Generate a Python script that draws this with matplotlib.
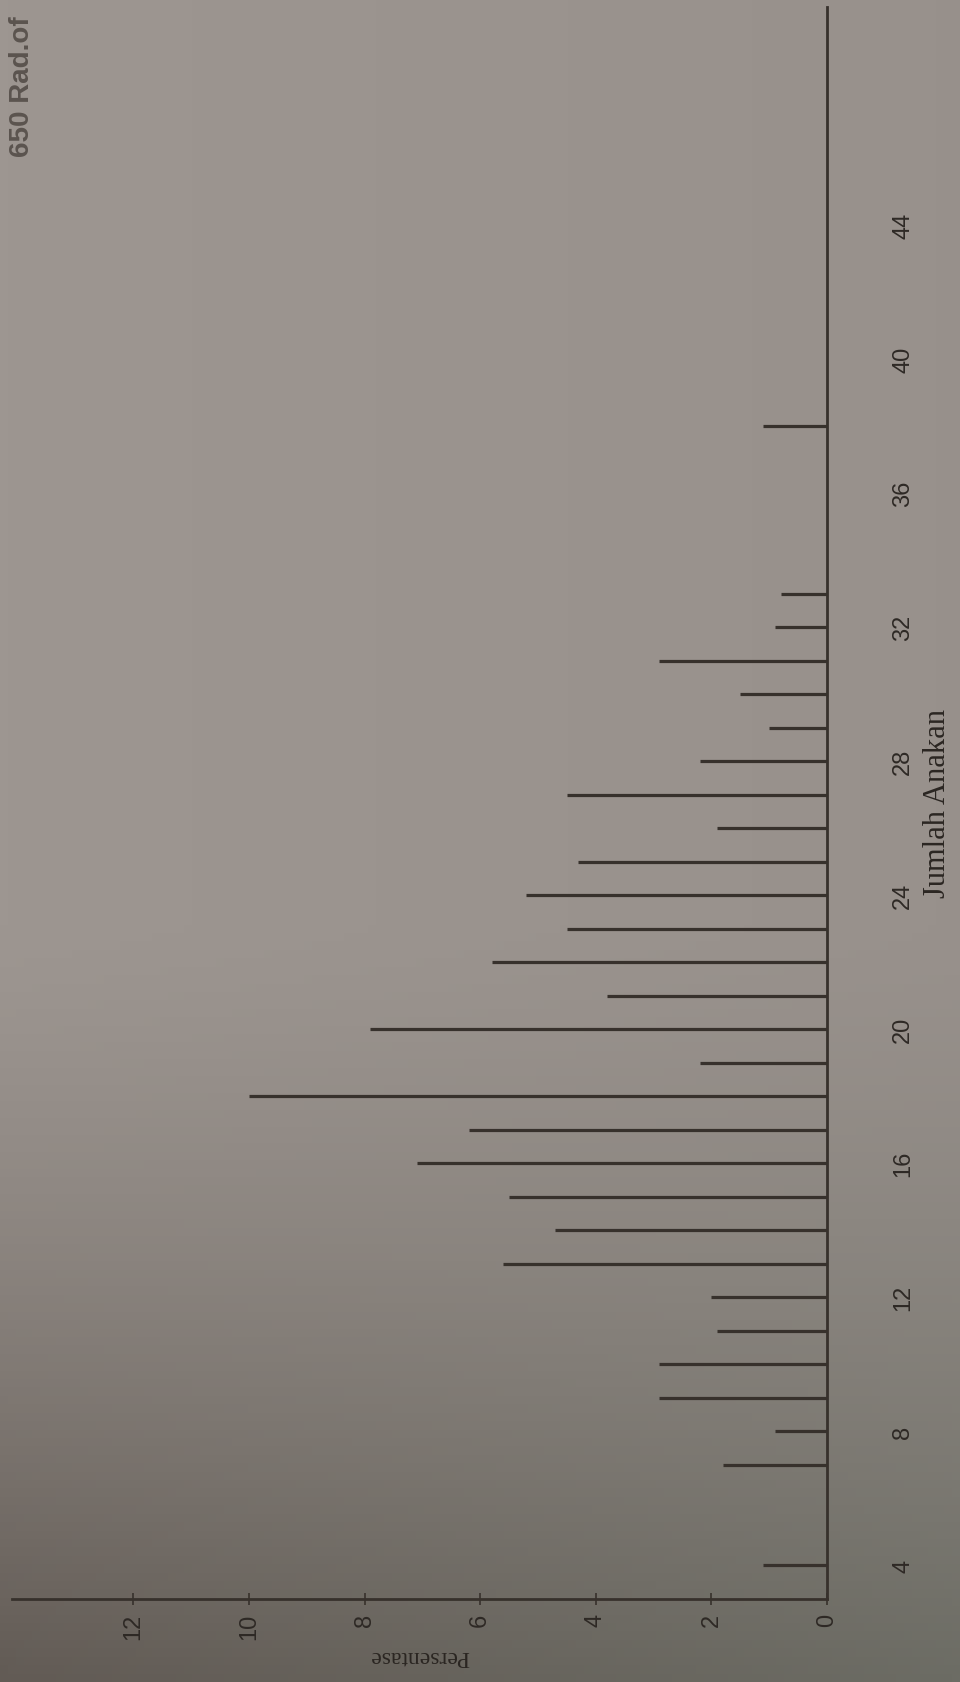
import numpy as np
import matplotlib.pyplot as plt

# Jumlah anakan (tiller count) and share of plants, in percent
jumlah_anakan = [4, 7, 8, 9, 10, 11, 12, 13, 14, 15, 16, 17, 18, 19, 20,
                 21, 22, 23, 24, 25, 26, 27, 28, 29, 30, 31, 32, 33, 38]
persentase = [1.1, 1.8, 0.9, 2.9, 2.9, 1.9, 2.0, 5.6, 4.7, 5.5, 7.1, 6.2, 10.0, 2.2, 7.9,
              3.8, 5.8, 4.5, 5.2, 4.3, 1.9, 4.5, 2.2, 1.0, 1.5, 2.9, 0.9, 0.8, 1.1]

x_ticks = [4, 8, 12, 16, 20, 24, 28, 32, 36, 40, 44]
y_ticks = [0, 2, 4, 6, 8, 10, 12]

W, H = 960, 1683
fig = plt.figure(figsize=(W / 100, H / 100), dpi=100)

# paper background, lighter at the top and darker towards the bottom
bg = fig.add_axes([0, 0, 1, 1], zorder=0)
bg.axis("off")
rows = np.linspace(0, 1, 200)[:, None]
cols = np.linspace(0, 1, 120)[None, :]
shade = np.clip((rows - 0.55) / 0.45, 0, 1) ** 1.4
top = np.array([157, 150, 145]) / 255
bot_l = np.array([98, 91, 85]) / 255
bot_r = np.array([108, 108, 100]) / 255
bottom = bot_l[None, None, :] * (1 - cols[..., None]) + bot_r[None, None, :] * cols[..., None]
img = top[None, None, :] * (1 - shade[..., None]) + bottom * shade[..., None]
img = img - 0.02 * cols[..., None] * (1 - shade[..., None])
bg.imshow(np.clip(img, 0, 1), aspect="auto", extent=[0, 1, 0, 1], origin="upper")

# chart drawn turned on its side: counts run upwards, percentages run to the left
ax = fig.add_axes([12 / W, 83 / H, 815 / W, 1592 / H], zorder=1)
ax.set_facecolor("none")
ink = "#37312c"

ax.hlines(jumlah_anakan, 0, persentase, color=ink, lw=2.3)

ax.set_xlim(14.1, 0)
ax.set_ylim(3, 50.5)

for side in ["top", "left"]:
    ax.spines[side].set_visible(False)
for side in ["right", "bottom"]:
    ax.spines[side].set_color(ink)
    ax.spines[side].set_linewidth(2.0)

ax.yaxis.tick_right()
ax.set_yticks(x_ticks)
ax.set_yticklabels([str(v) for v in x_ticks], rotation=90, va="center",
                   family="Liberation Sans", fontsize=17, color="#2e2925")
ax.tick_params(axis="y", direction="in", length=0, pad=47)

ax.set_xticks(y_ticks)
ax.set_xticklabels([str(v) for v in y_ticks], rotation=90,
                   family="Liberation Sans", fontsize=17, color="#2e2925")
ax.tick_params(axis="x", direction="inout", length=8, width=1.2, color=ink, pad=6)

ax.yaxis.set_label_position("right")
ax.set_ylabel("Jumlah Anakan", rotation=90, family="Liberation Serif",
              fontsize=22, color="#2b2622", labelpad=6)
ax.set_xlabel("Persentase", rotation=180, family="Liberation Serif",
              fontsize=17, color="#2b2622", labelpad=4)

fig.text(22 / W, 1 - 157 / H, "650 Rad.of", rotation=90, ha="center", va="bottom",
         family="Liberation Sans", fontsize=20, fontweight="bold", color="#5b544f")

fig.savefig("out.png", dpi=100)
